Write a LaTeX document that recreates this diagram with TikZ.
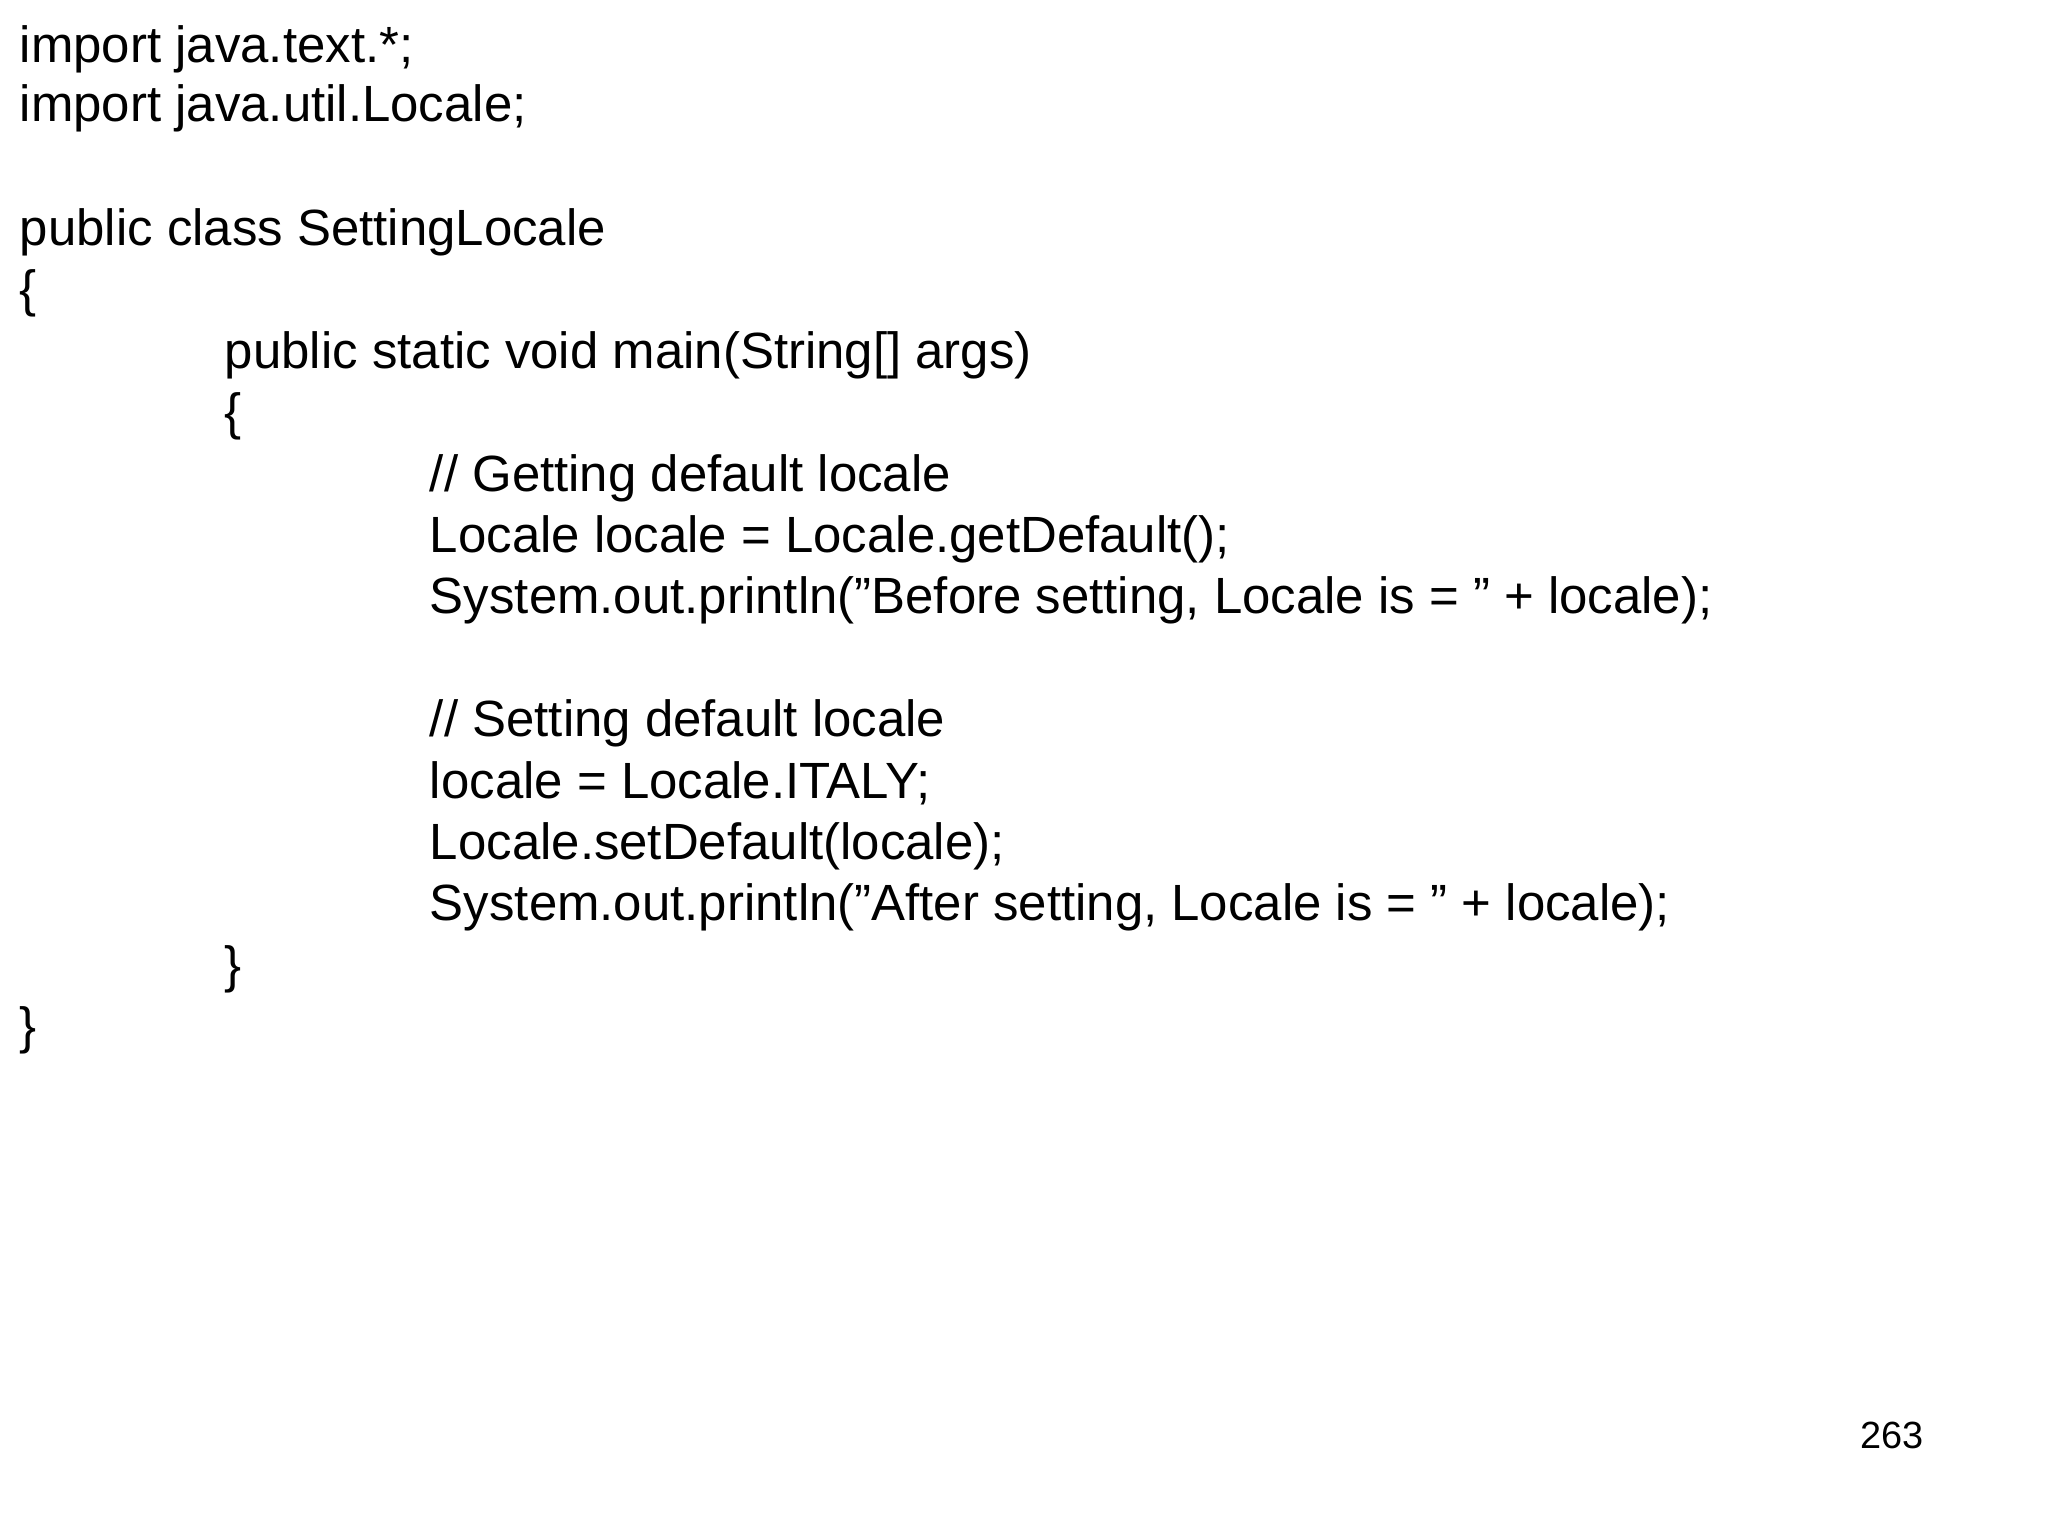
\documentclass[tikz,border=0pt]{standalone}
\usepackage{fontspec}
\setmainfont{Liberation Sans}
\newcommand{\dq}{\symbol{34}}
\begin{document}
\begin{tikzpicture}[x=1pt,y=-1pt,code/.style={anchor=base west,inner sep=0pt,font=\fontsize{39}{46}\selectfont}]
\useasboundingbox[fill=white] (0,0) rectangle (1568,1176);
\node[code] (l1) at (15,48) {import java.text.*;};
\node[code] (l2) at (15,93) {import java.util.Locale;};
\node[code] (l4) at (15,188) {public class SettingLocale};
\node[code] (l5) at (15,235) {\{};
\node[code] (l6) at (172,282) {public static void main(String[] args)};
\node[code] (l7) at (172,329) {\{};
\node[code] (l8) at (329,376) {// Getting default locale};
\node[code] (l9) at (329,423) {Locale locale = Locale.getDefault();};
\node[code] (l10) at (329,470) {System.out.println(\dq Before setting, Locale is = \dq{} + locale);};
\node[code] (l12) at (329,564) {// Setting default locale};
\node[code] (l13) at (329,611) {locale = Locale.ITALY;};
\node[code] (l14) at (329,658) {Locale.setDefault(locale);};
\node[code] (l15) at (329,705) {System.out.println(\dq After setting, Locale is = \dq{} + locale);};
\node[code] (l16) at (172,752) {\}};
\node[code] (l17) at (15,799) {\}};
\node[anchor=base east,inner sep=0pt,font=\fontsize{29}{34}\selectfont] (pg) at (1473,1109) {263};
\end{tikzpicture}
\end{document}
